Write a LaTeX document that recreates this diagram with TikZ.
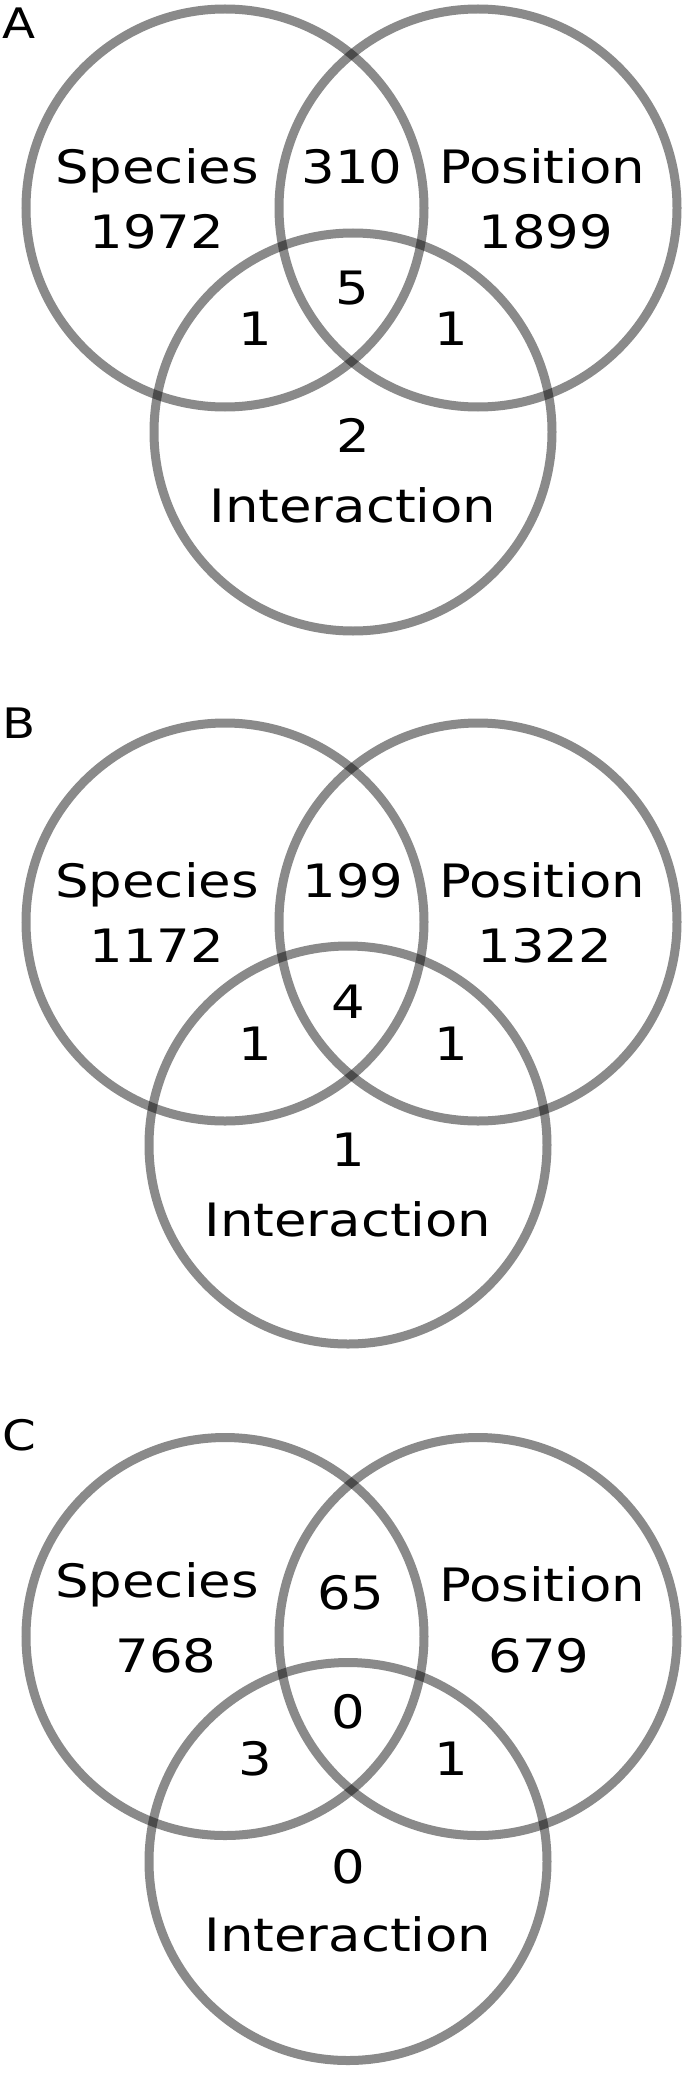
\documentclass[tikz,border=0pt]{standalone}
\usepackage{fontspec}
\setmainfont[FakeStretch=1.15]{DejaVu Sans}
\begin{document}
\begin{tikzpicture}[x=1pt,y=-1pt,
  ring/.style={draw=black,draw opacity=0.46,line width=9pt},
  lbl/.style={anchor=base,inner sep=0pt,font=\fontsize{46}{50}\selectfont},
  panel/.style={anchor=north west,inner sep=0pt,font=\fontsize{42}{46}\selectfont}]
\useasboundingbox (0,0) rectangle (685,2076);
% Panel A
\node[panel] (pA) at (2,8) {A};
\draw[ring] (225,208) circle[radius=199];
\draw[ring] (478,208) circle[radius=199];
\draw[ring] (353,432) circle[radius=199];
\node[lbl] (aS) at (157,183.5) {Species};
\node[lbl] (aSn) at (157,248) {1972};
\node[lbl] (aSP) at (352,183.5) {310};
\node[lbl] (aP) at (542,183.5) {Position};
\node[lbl] (aPn) at (546,248) {1899};
\node[lbl] (aAll) at (352,304) {5};
\node[lbl] (aSI) at (255,345) {1};
\node[lbl] (aPI) at (451,345) {1};
\node[lbl] (aIn) at (353,452) {2};
\node[lbl] (aI) at (353,522) {Interaction};
% Panel B
\node[panel] (pB) at (2,708) {B};
\draw[ring] (225,922) circle[radius=199];
\draw[ring] (478,922) circle[radius=199];
\draw[ring] (348,1145) circle[radius=199];
\node[lbl] (bS) at (157,897.5) {Species};
\node[lbl] (bSn) at (157,962) {1172};
\node[lbl] (bSP) at (353,897.5) {199};
\node[lbl] (bP) at (542,897.5) {Position};
\node[lbl] (bPn) at (545,962) {1322};
\node[lbl] (bAll) at (348,1018.5) {4};
\node[lbl] (bSI) at (255,1060.5) {1};
\node[lbl] (bPI) at (451,1060.5) {1};
\node[lbl] (bIn) at (348,1166) {1};
\node[lbl] (bI) at (348,1236) {Interaction};
% Panel C
\node[panel] (pC) at (2,1419) {C};
\draw[ring] (225,1636.5) circle[radius=199];
\draw[ring] (478,1636.5) circle[radius=199];
\draw[ring] (348,1861.5) circle[radius=199];
\node[lbl] (cS) at (157,1597.5) {Species};
\node[lbl] (cSn) at (166,1672) {768};
\node[lbl] (cSP) at (351,1609) {65};
\node[lbl] (cP) at (542,1601) {Position};
\node[lbl] (cPn) at (539,1672) {679};
\node[lbl] (cAll) at (348,1728.6) {0};
\node[lbl] (cSI) at (255,1775) {3};
\node[lbl] (cPI) at (451,1775) {1};
\node[lbl] (cIn) at (348,1883) {0};
\node[lbl] (cI) at (348,1951) {Interaction};
\end{tikzpicture}
\end{document}
